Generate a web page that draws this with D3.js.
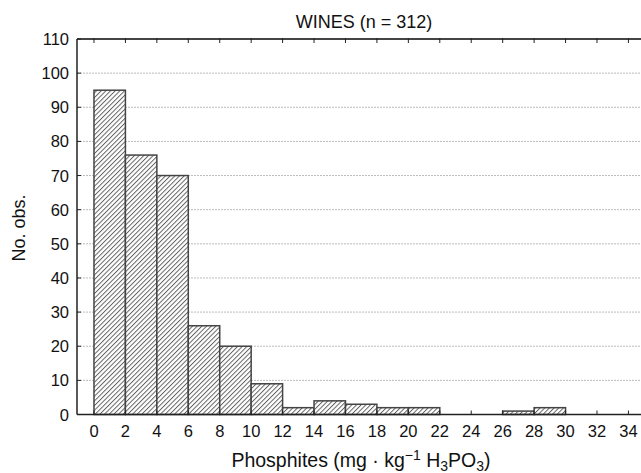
<!DOCTYPE html>
<html><head><meta charset="utf-8">
<script src="https://cdn.jsdelivr.net/npm/d3@7"></script>
<style>body{margin:0;background:#fff;} text{font-family:"Liberation Sans",Arial,sans-serif;fill:#111;}</style>
</head><body>
<svg id="c" width="641" height="473"></svg>
<script>
const binStarts = [0,2,4,6,8,10,12,14,16,18,20,22,24,26,28,30,32];
const counts    = [95,76,70,26,20,9,2,4,3,2,2,0,0,1,2,0,0];
const xTicks = [0,2,4,6,8,10,12,14,16,18,20,22,24,26,28,30,32,34];
const yTicks = [0,10,20,30,40,50,60,70,80,90,100,110];
const binWidth = 2;

const svg = d3.select("#c");
const L = 77, R = 641, T = 39, B = 414.5;
const x = d3.scaleLinear().domain([-1.08, 34.8]).range([L, R]);
const y = d3.scaleLinear().domain([0, 110]).range([B, T]);

const defs = svg.append("defs");
const pat = defs.append("pattern").attr("id","hatch").attr("patternUnits","userSpaceOnUse")
  .attr("width",3.3).attr("height",3.3).attr("patternTransform","rotate(45)");
pat.append("rect").attr("width",3.3).attr("height",3.3).attr("fill","#fff");
pat.append("line").attr("x1",0.5).attr("y1",0).attr("x2",0.5).attr("y2",3.3)
  .attr("stroke","#555").attr("stroke-width",0.9);

// gridlines
svg.append("g").selectAll("line").data(yTicks.filter(v=>v>0 && v<110)).join("line")
  .attr("x1",L).attr("x2",R).attr("y1",d=>y(d)).attr("y2",d=>y(d))
  .attr("stroke","#bbb").attr("stroke-width",1).attr("stroke-dasharray","2,1");

// bars
svg.append("g").selectAll("rect").data(binStarts.map((s,i)=>({s,c:counts[i]})).filter(d=>d.c>0)).join("rect")
  .attr("x",d=>x(d.s)).attr("width",d=>x(d.s+binWidth)-x(d.s))
  .attr("y",d=>y(d.c)).attr("height",d=>y(0)-y(d.c))
  .attr("fill","url(#hatch)").attr("stroke","#444").attr("stroke-width",1.5);

// axes lines
const ax = svg.append("g").attr("stroke","#222");
ax.append("line").attr("x1",L).attr("x2",R).attr("y1",B).attr("y2",B).attr("stroke-width",1.5);
ax.append("line").attr("x1",L).attr("x2",R).attr("y1",T).attr("y2",T).attr("stroke","#444").attr("stroke-width",2);
ax.append("line").attr("x1",L).attr("x2",L).attr("y1",T).attr("y2",B).attr("stroke-width",1.5);

// x ticks (bottom inward, top inward)
svg.append("g").selectAll("line").data(xTicks).join("line")
  .attr("x1",d=>x(d)).attr("x2",d=>x(d)).attr("y1",B).attr("y2",B-4).attr("stroke","#222");
svg.append("g").selectAll("line").data(xTicks).join("line")
  .attr("x1",d=>x(d)).attr("x2",d=>x(d)).attr("y1",T-1).attr("y2",T+4).attr("stroke","#222");
// y ticks
svg.append("g").selectAll("line").data(yTicks).join("line")
  .attr("x1",L).attr("x2",L+4).attr("y1",d=>y(d)).attr("y2",d=>y(d)).attr("stroke","#222");

// labels
svg.append("g").selectAll("text").data(xTicks).join("text")
  .attr("x",d=>x(d)).attr("y",437).attr("text-anchor","middle").attr("font-size",16.5).text(d=>d);
svg.append("g").selectAll("text").data(yTicks).join("text")
  .attr("x",69).attr("y",d=>y(d)+6).attr("text-anchor","end").attr("font-size",16.5).text(d=>d);

svg.append("text").attr("x",364).attr("y",28).attr("text-anchor","middle").attr("font-size",18)
  .text("WINES (n = 312)");

svg.append("text").attr("transform","translate(25,228) rotate(-90)").attr("text-anchor","middle")
  .attr("font-size",18).text("No. obs.");

const xl = svg.append("text").attr("x",361).attr("y",467).attr("text-anchor","middle").attr("font-size",19.5);
xl.append("tspan").text("Phosphites (mg \u00b7 kg");
xl.append("tspan").attr("dy",-7).attr("font-size",14).text("\u22121");
xl.append("tspan").attr("dy",7).text(" H");
xl.append("tspan").attr("dy",4).attr("font-size",14).text("3");
xl.append("tspan").attr("dy",-4).text("PO");
xl.append("tspan").attr("dy",4).attr("font-size",14).text("3");
xl.append("tspan").attr("dy",-4).text(")");
</script>
</body></html>
